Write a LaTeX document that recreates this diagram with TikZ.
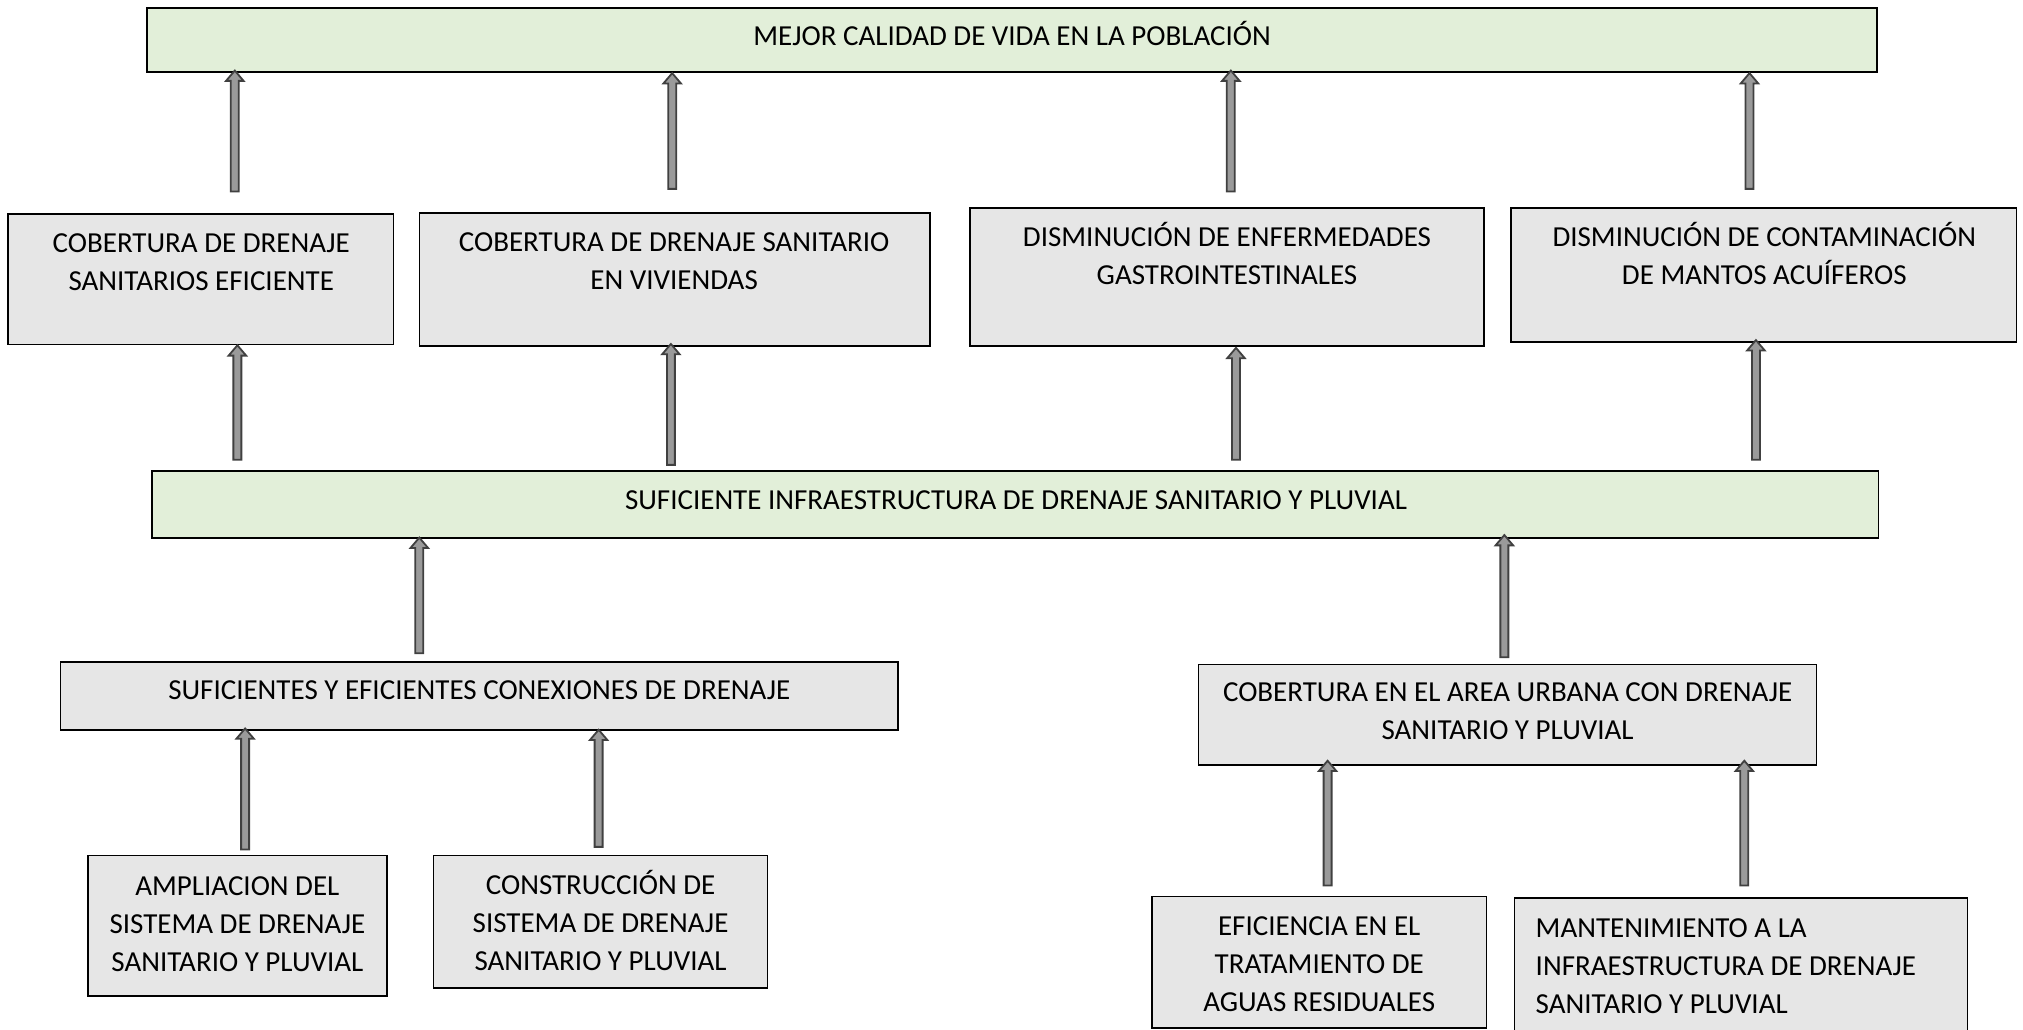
\documentclass[tikz,border=0pt]{standalone}
\usepackage{fontspec}
\setmainfont{Carlito}
\usetikzlibrary{calc,fit}
\definecolor{gfill}{HTML}{E2EFD9}
\definecolor{bfill}{HTML}{E6E6E6}
\definecolor{arrfill}{HTML}{9A9A9A}
\definecolor{arrline}{HTML}{404040}
\tikzset{
  greenbox/.style={draw=black, line width=0.9pt, fill=gfill, inner sep=0pt},
  graybox/.style={draw=black, line width=0.8pt, fill=bfill, inner sep=0pt},
  txt/.style={inner sep=0pt, align=center, font=\fontsize{14.5}{19}\selectfont, text height=9.4pt, text depth=0pt},
  txtl/.style={inner sep=0pt, align=left, font=\fontsize{14.5}{19}\selectfont, text height=9.4pt, text depth=0pt},
  blockarr/.style={draw=arrline, line width=0.9pt, fill=arrfill, line join=miter,
    to path={
      ($(\tikztostart)+(-3.1,0)$) -- ($(\tikztotarget)+(-3.1,8)$) -- ($(\tikztotarget)+(-6.8,8)$)
      -- (\tikztotarget) -- ($(\tikztotarget)+(6.8,8)$) -- ($(\tikztotarget)+(3.1,8)$)
      -- ($(\tikztostart)+(3.1,0)$) -- cycle}}
}
\newcommand{\myuparr}[5]{%
  \path[blockarr] ($(#1,0 |- #2.north)+(0,-#3)$) to ($(#1,0 |- #4.south)+(0,-#5)$);}
\begin{document}
\begin{tikzpicture}[x=0.645pt,y=-0.645pt]
\useasboundingbox (0,0) rectangle (1568,798);
\begin{scope}
\clip (0,0) rectangle (1568,798);
% top
\node[greenbox, fit={(114,6) (1455,56)}] (top) {};
\node[txt] (ttop) at (784.5,28) {MEJOR CALIDAD DE VIDA EN LA POBLACIÓN};
% row 2
\node[graybox, fit={(6,166) (305,267)}] (b1) {};
\node[txt] (tb1) at (156,218) {COBERTURA DE DRENAJE\\SANITARIOS EFICIENTE};
\node[graybox, fit={(325,165) (721,268)}] (b2) {};
\node[txt] (tb2) at (522.5,217) {COBERTURA DE DRENAJE SANITARIO\\EN VIVIENDAS};
\node[graybox, fit={(752,161) (1150,268)}] (b3) {};
\node[txt] (tb3) at (951,213) {DISMINUCIÓN DE ENFERMEDADES\\GASTROINTESTINALES};
\node[graybox, fit={(1171,161) (1563,265)}] (b4) {};
\node[txt] (tb4) at (1367.5,213) {DISMINUCIÓN DE CONTAMINACIÓN\\DE MANTOS ACUÍFEROS};
% middle
\node[greenbox, fit={(118,365) (1456,417)}] (mid) {};
\node[txt] (tmid) at (787.5,388) {SUFICIENTE INFRAESTRUCTURA DE DRENAJE SANITARIO Y PLUVIAL};
% row 4
\node[graybox, fit={(47,513) (696,566)}] (l4) {};
\node[txt] (tl4) at (371.5,535) {SUFICIENTES Y EFICIENTES CONEXIONES DE DRENAJE};
\node[graybox, fit={(929,515) (1408,593)}] (r4) {};
\node[txt] (tr4) at (1168.5,566) {COBERTURA EN EL AREA URBANA CON DRENAJE\\SANITARIO Y PLUVIAL};
% row 5
\node[graybox, fit={(68,663) (300,772)}] (c1) {};
\node[txt] (tc1) at (184,746) {AMPLIACION DEL\\SISTEMA DE DRENAJE\\SANITARIO Y PLUVIAL};
\node[graybox, fit={(336,663) (595,766)}] (c2) {};
\node[txt] (tc2) at (465.5,745) {CONSTRUCCIÓN DE\\SISTEMA DE DRENAJE\\SANITARIO Y PLUVIAL};
\node[graybox, fit={(893,695) (1152,797)}] (c3) {};
\node[txt] (tc3) at (1022.5,777) {EFICIENCIA EN EL\\TRATAMIENTO DE\\AGUAS RESIDUALES};
\node[graybox, fit={(1174,696) (1525,805)}] (c4) {};
\node[txtl, anchor=west] (tc4) at (1190,778) {MANTENIMIENTO A LA\\INFRAESTRUCTURA DE DRENAJE\\SANITARIO Y PLUVIAL};
% arrows
\myuparr{182}{b1}{17}{top}{2}
\myuparr{521}{b2}{18}{top}{0}
\myuparr{954}{b3}{12}{top}{2}
\myuparr{1356}{b4}{14}{top}{0}
\myuparr{184}{mid}{8}{b1}{0}
\myuparr{520}{mid}{4}{b2}{2}
\myuparr{958}{mid}{8}{b3}{-1}
\myuparr{1361}{mid}{8}{b4}{2}
\myuparr{325}{l4}{6}{mid}{1}
\myuparr{1166}{r4}{5}{mid}{3}
\myuparr{190}{c1}{4}{l4}{2}
\myuparr{464}{c2}{6}{l4}{1}
\myuparr{1029}{c3}{8}{r4}{4}
\myuparr{1352}{c4}{9}{r4}{4}
\end{scope}
\end{tikzpicture}
\end{document}
